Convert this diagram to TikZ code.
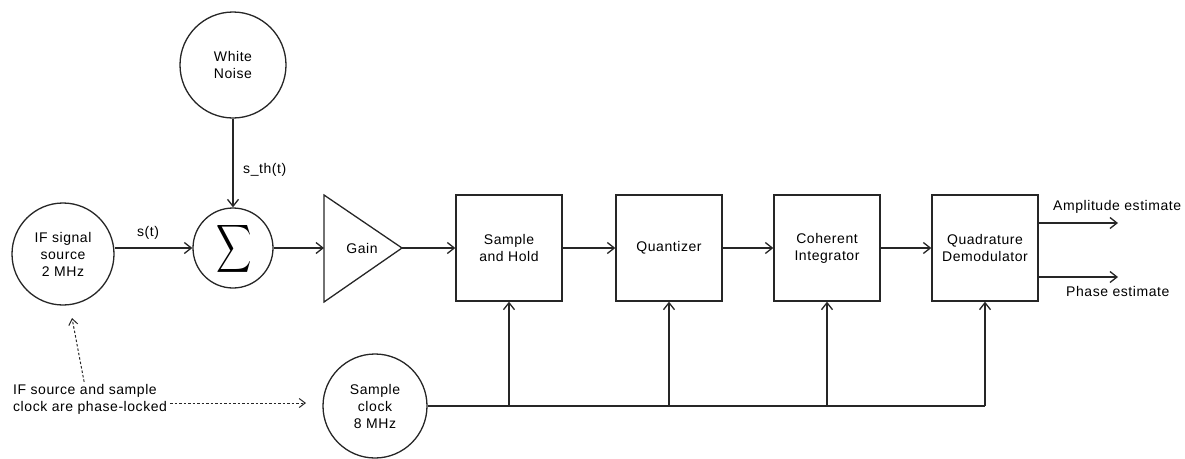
\documentclass[tikz,border=0pt]{standalone}
\usepackage{fontspec}
\setmainfont{Liberation Sans}[LetterSpace=4]
\usetikzlibrary{arrows.meta,calc}
\begin{document}
\begin{tikzpicture}[x=1pt,y=-1pt,
  every node/.style={font=\fontsize{14}{17}\selectfont, inner sep=0pt, align=center},
  ln/.style={line width=1.3pt, draw=black!85},
  arr/.style={ln, -{Straight Barb[length=7pt,width=11pt,line width=1.3pt]}},
  dotarr/.style={line width=1pt, draw=black!85, dash pattern=on 2.5pt off 2pt, -{Straight Barb[length=6pt,width=9pt,line width=1pt]}},
  circ/.style={circle, ln, inner sep=0pt},
  blk/.style={rectangle, ln, minimum width=106pt, minimum height=106pt}]
\useasboundingbox (0,0) rectangle (1185,458);

% sources
\node[circ, minimum size=106pt] (wn) at (233,65) {White\\Noise};
\node[circ, minimum size=102pt] (src) at (63,254) {IF signal\\source\\2 MHz};
\node[circ, minimum size=80pt] (sum) at (233,248) {};
\node (sig) at (234,249) {\scalebox{2.45}[3.35]{$\displaystyle\sum$}};

% gain
\draw[ln] (324,195) -- (402,248) -- (324,302) -- cycle;
\coordinate (gin) at (324,248);
\coordinate (gout) at (402,248);
\node (gain) at (362,248) {Gain};

% blocks
\node[blk] (sh) at (509,248) {Sample\\and Hold};
\node[blk] (qz) at (669,248) {Quantizer};
\node[blk] (ci) at (827,248) {Coherent\\Integrator};
\node[blk] (qd) at (985,248) {Quadrature\\Demodulator};

% clock
\node[circ, minimum size=104pt] (clk) at (375,406) {Sample\\clock\\8 MHz};

% labels
\node (st) at (148,233) {s(t)};
\node[anchor=west] (sth) at (243,170) {s\_th(t)};
\node[anchor=west] (amp) at (1053,207) {Amplitude estimate};
\node[anchor=west] (ph) at (1066,291) {Phase estimate};
\node[anchor=west, align=left] (lock) at (13,399) {IF source and sample\\clock are phase-locked};

% signal path
\draw[arr] (wn.south) -- (sum.north);
\draw[arr] (src.east |- sum.west) -- (sum.west);
\draw[arr] (sum.east) -- (gin);
\draw[arr] (gout) -- (sh.west);
\draw[arr] (sh.east) -- (qz.west);
\draw[arr] (qz.east) -- (ci.west);
\draw[arr] (ci.east) -- (qd.west);

% outputs
\coordinate (ampend) at (1118,223);
\coordinate (phend) at (1118,277);
\draw[arr] (qd.east |- ampend) -- (ampend);
\draw[arr] (qd.east |- phend) -- (phend);

% clock bus
\coordinate (busend) at (qd.south |- clk.east);
\draw[ln] (clk.east) -- (busend);
\draw[arr] (busend) -- (qd.south);
\draw[arr] (sh.south |- clk.east) -- (sh.south);
\draw[arr] (qz.south |- clk.east) -- (qz.south);
\draw[arr] (ci.south |- clk.east) -- (ci.south);

% phase-lock annotation
\coordinate (lockend) at (306,403);
\coordinate (srcnear) at (72,318);
\draw[dotarr] ([xshift=3pt,yshift=-4pt]lock.east) -- (lockend);
\draw[dotarr] ([xshift=-6pt,yshift=2pt]lock.north) -- (srcnear);
\end{tikzpicture}
\end{document}
